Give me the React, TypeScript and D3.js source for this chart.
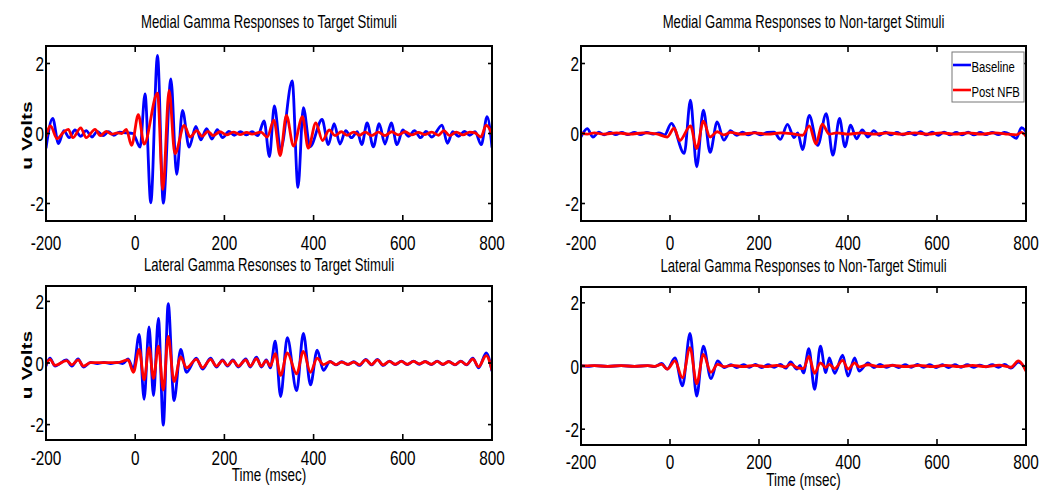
import React from "react";
import * as d3 from "d3";

// ---------- data (time in msec, amplitude in uV; extrema) ----------
const xTicks = [-200, 0, 200, 400, 600, 800];
const yTicks = [-2, 0, 2];
const xDomain: [number, number] = [-200, 800];
const yDomain: [number, number] = [-2.5, 2.5];
const seriesNames = ["Baseline", "Post NFB"];
const panelTitles = [
  "Medial Gamma Responses to Target Stimuli",
  "Medial Gamma Responses to Non-target Stimuli",
  "Lateral Gamma Resonses to Target Stimuli",
  "Lateral Gamma Responses to Non-Target Stimuli",
];
const yAxisLabel = "u Volts";
const xAxisLabel = "Time (msec)";

type Pt = [number, number];

const medialTargetBaseline: Pt[] = [
  [-200, -0.42], [-185, 0.43], [-172, -0.29], [-160, 0.08], [-148, -0.12], [-135, 0.1], [-122, -0.08],
  [-110, 0.08], [-97, -0.1], [-85, 0.06], [-72, -0.06], [-60, 0.05], [-48, -0.05], [-35, 0.04], [-20, 0.02],
  [-5, 0.0], [11, -0.39], [22, 1.13], [35, -1.98], [50, 2.23], [63, -1.99], [80, 1.56], [93, -1.17],
  [106, 0.66], [121, -0.39], [136, 0.2], [147, -0.18], [160, 0.14], [172, -0.16], [184, 0.11], [196, -0.12],
  [210, 0.06], [222, -0.05], [236, 0.05], [250, -0.04], [262, 0.05], [275, -0.06], [289, 0.36], [301, -0.66],
  [312, 0.79], [326, -0.46], [352, 1.5], [365, -1.54], [377, 0.74], [392, -0.38], [419, 0.4], [433, -0.32],
  [446, 0.28], [459, -0.3], [472, 0.08], [485, -0.12], [498, 0.05], [508, -0.32], [520, 0.3], [534, -0.38],
  [547, 0.28], [560, -0.3], [574, 0.3], [587, -0.32], [600, 0.1], [613, -0.08], [626, 0.08], [640, -0.12],
  [652, 0.06], [665, -0.1], [688, 0.24], [700, -0.28], [712, 0.05], [725, -0.08], [738, 0.06], [750, -0.05],
  [762, 0.05], [776, -0.32], [789, 0.48], [800, -0.4],
];
const medialTargetPost: Pt[] = [
  [-200, -0.1], [-190, 0.22], [-175, -0.15], [-162, 0.02], [-150, 0.12], [-140, -0.12], [-122, 0.16],
  [-110, -0.12], [-90, 0.12], [-78, -0.06], [-65, 0.06], [-52, -0.02], [-40, 0.02], [-30, 0.0], [-20, 0.12],
  [-8, -0.34], [7, 0.54], [20, -0.3], [50, 1.15], [62, -1.6], [76, 1.23], [89, -0.58], [110, 0.23],
  [123, -0.1], [138, 0.08], [150, -0.08], [163, 0.06], [175, -0.06], [190, 0.05], [205, -0.04], [220, 0.04],
  [235, -0.03], [250, 0.03], [262, -0.02], [282, 0.04], [296, -0.1], [311, 0.38], [325, -0.63], [339, 0.52],
  [355, -0.36], [375, 0.48], [388, -0.42], [405, 0.3], [420, -0.2], [435, 0.1], [448, -0.06], [462, 0.05],
  [475, -0.05], [490, 0.04], [503, -0.05], [516, 0.04], [530, -0.06], [545, 0.04], [560, -0.06], [575, 0.05],
  [590, -0.04], [605, 0.05], [620, -0.04], [635, 0.03], [650, -0.03], [665, 0.04], [680, -0.05], [692, 0.08],
  [705, -0.06], [720, 0.04], [735, -0.04], [750, 0.04], [762, 0.02], [775, -0.1], [787, 0.24], [800, -0.02],
];

const medialNonTargetBaseline: Pt[] = [
  [-200, -0.1], [-186, 0.14], [-173, -0.1], [-160, 0.04], [-148, -0.04], [-135, 0.03], [-122, -0.03],
  [-108, 0.03], [-95, -0.03], [-80, 0.03], [-66, -0.03], [-52, 0.03], [-38, -0.02], [-25, 0.02], [-12, -0.04],
  [3, 0.29], [32, -0.57], [46, 0.95], [60, -0.95], [75, 0.67], [90, -0.54], [106, 0.33], [121, -0.19],
  [136, 0.08], [150, -0.05], [163, 0.04], [176, -0.04], [190, 0.03], [204, -0.04], [218, 0.03], [234, 0.04],
  [248, -0.17], [264, 0.26], [279, -0.12], [287, 0.02], [298, -0.46], [313, 0.52], [332, -0.34], [351, 0.57],
  [366, -0.62], [381, 0.43], [393, -0.38], [406, 0.24], [419, -0.15], [432, 0.1], [445, -0.1], [458, 0.08],
  [470, -0.05], [484, 0.04], [497, -0.04], [510, 0.03], [523, -0.04], [537, 0.03], [550, -0.04], [563, 0.05],
  [576, -0.04], [589, 0.04], [603, -0.05], [616, 0.04], [630, -0.04], [643, 0.03], [656, -0.04], [670, 0.04],
  [683, -0.04], [697, 0.03], [710, -0.03], [724, 0.03], [738, -0.03], [752, 0.03], [765, -0.03], [778, -0.14],
  [790, 0.17], [800, 0.05],
];
const medialNonTargetPost: Pt[] = [
  [-200, 0.02], [-186, -0.02], [-170, 0.02], [-150, -0.02], [-120, 0.02], [-90, -0.02], [-60, 0.02],
  [-30, -0.01], [-6, -0.1], [9, 0.15], [22, -0.2], [46, 0.22], [60, -0.43], [75, 0.35], [90, -0.1],
  [106, 0.05], [121, -0.04], [136, 0.03], [160, -0.02], [190, 0.02], [220, -0.02], [250, 0.02], [280, -0.02],
  [298, -0.05], [313, 0.22], [328, -0.3], [342, 0.27], [358, -0.02], [375, 0.02], [400, -0.02], [430, 0.02],
  [460, -0.02], [490, 0.02], [520, -0.02], [550, 0.02], [580, -0.02], [610, 0.02], [640, -0.02], [670, 0.02],
  [700, -0.02], [730, 0.02], [760, -0.02], [778, -0.04], [790, 0.03], [800, -0.08],
];

const lateralTargetBaseline: Pt[] = [
  [-200, -0.1], [-191, 0.16], [-180, -0.1], [-154, 0.1], [-142, -0.1], [-128, 0.13], [-116, -0.13],
  [-100, 0.02], [-85, -0.02], [-70, 0.02], [-55, -0.02], [-40, 0.02], [-28, -0.02], [-16, 0.13], [-4, -0.2],
  [9, 0.93], [20, -1.18], [31, 1.17], [41, -1.06], [52, 1.45], [63, -2.02], [74, 1.93], [87, -1.22],
  [102, 0.44], [115, -0.3], [137, 0.16], [151, -0.2], [169, 0.16], [182, -0.13], [196, 0.1], [207, -0.1],
  [219, 0.1], [231, -0.13], [248, 0.13], [258, -0.13], [272, 0.19], [283, -0.13], [294, 0.1], [303, -0.16],
  [314, 0.71], [326, -1.09], [341, 0.82], [362, -0.9], [377, 0.96], [393, -0.71], [408, 0.42], [422, -0.24],
  [437, 0.05], [450, -0.06], [463, 0.04], [477, -0.05], [490, 0.04], [503, -0.08], [517, 0.12], [530, -0.06],
  [543, 0.12], [556, -0.08], [570, 0.06], [583, -0.05], [597, 0.06], [610, -0.05], [624, 0.06], [637, -0.04],
  [650, 0.05], [664, -0.05], [677, 0.06], [690, -0.05], [703, 0.05], [717, -0.06], [730, 0.06], [743, -0.06],
  [757, 0.16], [770, -0.16], [787, 0.33], [800, -0.27],
];
const lateralTargetPost: Pt[] = [
  [-200, -0.05], [-191, 0.12], [-180, -0.08], [-154, 0.08], [-142, -0.06], [-128, 0.1], [-116, -0.1],
  [-100, 0.01], [-70, 0.01], [-40, 0.01], [-16, 0.1], [-4, -0.3], [9, 0.44], [20, -0.55], [31, 0.5],
  [41, -0.5], [52, 0.55], [63, -0.88], [74, 0.86], [87, -0.6], [102, 0.2], [115, -0.16], [137, 0.12],
  [151, -0.15], [169, 0.12], [182, -0.1], [196, 0.08], [207, -0.08], [219, 0.08], [231, -0.1], [248, 0.1],
  [258, -0.1], [272, 0.14], [283, -0.1], [294, 0.08], [303, -0.1], [314, 0.3], [326, -0.4], [341, 0.33],
  [362, -0.35], [377, 0.38], [393, -0.3], [408, 0.16], [422, -0.05], [437, 0.04], [450, -0.05], [463, 0.03],
  [477, -0.04], [490, 0.03], [503, -0.06], [517, 0.1], [530, -0.05], [543, 0.1], [556, -0.06], [570, 0.05],
  [583, -0.04], [597, 0.05], [610, -0.04], [624, 0.05], [637, -0.03], [650, 0.04], [664, -0.04], [677, 0.05],
  [690, -0.04], [703, 0.04], [717, -0.05], [730, 0.05], [743, -0.05], [757, 0.13], [770, -0.12], [787, 0.24],
  [800, -0.24],
];

const lateralNonTargetBaseline: Pt[] = [
  [-200, 0.01], [-185, -0.01], [-170, 0.01], [-140, -0.01], [-110, 0.01], [-80, -0.01], [-50, 0.01],
  [-35, -0.02], [-19, 0.08], [-6, -0.1], [11, 0.26], [28, -0.63], [45, 1.03], [60, -0.95], [75, 0.63],
  [92, -0.4], [107, 0.16], [122, -0.05], [137, 0.04], [150, -0.05], [165, 0.04], [178, -0.04], [192, 0.05],
  [206, -0.05], [220, 0.04], [234, -0.04], [248, 0.05], [260, -0.07], [271, 0.13], [285, -0.1], [292, 0.02],
  [300, -0.22], [312, 0.55], [325, -0.74], [338, 0.63], [350, -0.21], [358, 0.26], [370, -0.23], [388, 0.34],
  [400, -0.32], [415, 0.26], [425, -0.16], [445, 0.1], [458, -0.05], [472, 0.05], [486, -0.04], [500, 0.03],
  [514, -0.05], [528, 0.04], [542, -0.04], [556, 0.05], [570, -0.04], [584, 0.04], [598, -0.05], [612, 0.04],
  [626, -0.05], [640, 0.04], [654, -0.04], [668, 0.04], [682, -0.04], [696, 0.03], [710, -0.03], [724, 0.04],
  [738, -0.04], [752, 0.05], [766, -0.07], [783, 0.12], [800, -0.1],
];
const lateralNonTargetPost: Pt[] = [
  [-200, 0.0], [-170, 0.01], [-140, -0.01], [-110, 0.01], [-80, -0.01], [-50, 0.01], [-35, -0.01],
  [-19, 0.05], [-6, -0.1], [11, 0.16], [28, -0.37], [45, 0.58], [60, -0.56], [75, 0.37], [92, -0.2],
  [107, 0.05], [122, -0.02], [140, 0.02], [165, -0.02], [190, 0.02], [215, -0.02], [240, 0.02], [260, -0.03],
  [271, 0.06], [285, -0.05], [300, -0.08], [312, 0.3], [325, -0.23], [338, 0.1], [350, -0.05], [358, 0.05],
  [370, -0.08], [388, 0.18], [400, -0.1], [415, 0.1], [425, -0.03], [445, 0.04], [470, -0.02], [500, 0.02],
  [530, -0.02], [560, 0.02], [590, -0.02], [620, 0.02], [650, -0.02], [680, 0.02], [710, -0.02], [740, 0.03],
  [766, -0.04], [783, 0.16], [800, -0.16],
];

// ---------- layout ----------
type PanelLayout = {
  x0: number; x1: number; y0: number; y1: number;
  titleY: number; tickLabelY: number; yLabel: boolean; xLabel: boolean; legend: boolean;
};
const layouts: PanelLayout[] = [
  { x0: 46, x1: 492, y0: 46, y1: 221, titleY: 28, tickLabelY: 250, yLabel: true, xLabel: false, legend: false },
  { x0: 581, x1: 1026, y0: 46, y1: 221, titleY: 28, tickLabelY: 250, yLabel: false, xLabel: false, legend: true },
  { x0: 46, x1: 492, y0: 286, y1: 440, titleY: 271, tickLabelY: 465, yLabel: true, xLabel: true, legend: false },
  { x0: 581, x1: 1026, y0: 287, y1: 445, titleY: 272, tickLabelY: 469, yLabel: false, xLabel: true, legend: false },
];
const panelSeries: Pt[][][] = [
  [medialTargetBaseline, medialTargetPost],
  [medialNonTargetBaseline, medialNonTargetPost],
  [lateralTargetBaseline, lateralTargetPost],
  [lateralNonTargetBaseline, lateralNonTargetPost],
];
const colors = ["#0000ff", "#ff0000"];
const SQ = 0.73; // horizontal squeeze of the text
const FONT = "'Liberation Sans', Arial, Helvetica, sans-serif";

function Txt(props: {
  x: number; y: number; size: number; anchor?: string; bold?: boolean; rotate?: boolean; children: React.ReactNode;
}) {
  const { x, y, size, anchor = "middle", bold, rotate, children } = props;
  return (
    <text
      transform={`translate(${x},${y}) scale(${SQ},1)${rotate ? " rotate(-90)" : ""}`}
      textAnchor={anchor as any}
      fontFamily={FONT}
      fontSize={size}
      fontWeight={bold ? "bold" : "normal"}
      fill="#000"
    >
      {children}
    </text>
  );
}

function Panel({ idx }: { idx: number }) {
  const L = layouts[idx];
  const x = d3.scaleLinear().domain(xDomain).range([L.x0, L.x1]);
  const y = d3.scaleLinear().domain(yDomain).range([L.y1, L.y0]);
  const line = d3
    .line<Pt>()
    .x((d) => x(d[0]))
    .y((d) => y(d[1]))
    .curve(d3.curveMonotoneX);
  const clipId = `clip-${idx}`;
  const cx = (L.x0 + L.x1) / 2;
  const cy = (L.y0 + L.y1) / 2;
  const xtl = 6;
  const ytl = 4;
  return (
    <g>
      <defs>
        <clipPath id={clipId}>
          <rect x={L.x0} y={L.y0} width={L.x1 - L.x0} height={L.y1 - L.y0} />
        </clipPath>
      </defs>
      <rect x={L.x0} y={L.y0} width={L.x1 - L.x0} height={L.y1 - L.y0} fill="#fff" />
      <g clipPath={`url(#${clipId})`}>
        {panelSeries[idx].map((s, i) => (
          <path key={i} d={line(s) || ""} fill="none" stroke={colors[i]} strokeWidth={2.8} strokeLinejoin="round" />
        ))}
      </g>
      {xTicks.map((t) => (
        <g key={`xt${t}`}>
          <line x1={x(t)} x2={x(t)} y1={L.y1} y2={L.y1 - xtl} stroke="#000" strokeWidth={1.6} />
          <line x1={x(t)} x2={x(t)} y1={L.y0} y2={L.y0 + xtl} stroke="#000" strokeWidth={1.6} />
          <Txt x={x(t)} y={L.tickLabelY} size={21}>{t}</Txt>
        </g>
      ))}
      {yTicks.map((t) => (
        <g key={`yt${t}`}>
          <line x1={L.x0} x2={L.x0 + ytl} y1={y(t)} y2={y(t)} stroke="#000" strokeWidth={1.6} />
          <line x1={L.x1} x2={L.x1 - ytl} y1={y(t)} y2={y(t)} stroke="#000" strokeWidth={1.6} />
          <Txt x={L.x0 - 2} y={y(t) + 7.5} size={21} anchor="end">{t}</Txt>
        </g>
      ))}
      <rect x={L.x0} y={L.y0} width={L.x1 - L.x0} height={L.y1 - L.y0} fill="none" stroke="#000" strokeWidth={2} />
      <Txt x={cx} y={L.titleY} size={18}>{panelTitles[idx]}</Txt>
      {L.yLabel && (
        <Txt x={32} y={cy + 2} size={21} bold rotate>{yAxisLabel}</Txt>
      )}
      {L.xLabel && (
        <Txt x={cx} y={L.y1 + 41} size={18.5}>{xAxisLabel}</Txt>
      )}
      {L.legend && (
        <g>
          <rect x={952} y={52} width={72} height={50} fill="#fff" stroke="#777" strokeWidth={1} />
          {seriesNames.map((n, i) => (
            <g key={n}>
              <line x1={953} x2={971} y1={65 + i * 25} y2={65 + i * 25} stroke={colors[i]} strokeWidth={2.6} />
              <Txt x={971.5} y={71.5 + i * 25} size={15.5} anchor="start">{n}</Txt>
            </g>
          ))}
        </g>
      )}
    </g>
  );
}

export default function App() {
  return (
    <svg
      width={1050}
      height={493}
      viewBox="0 0 1050 493"
      style={{ position: "absolute", left: 0, top: 0, background: "#fff" }}
    >
      <rect x={0} y={0} width={1050} height={493} fill="#fff" />
      {layouts.map((_, i) => (
        <Panel key={i} idx={i} />
      ))}
    </svg>
  );
}
